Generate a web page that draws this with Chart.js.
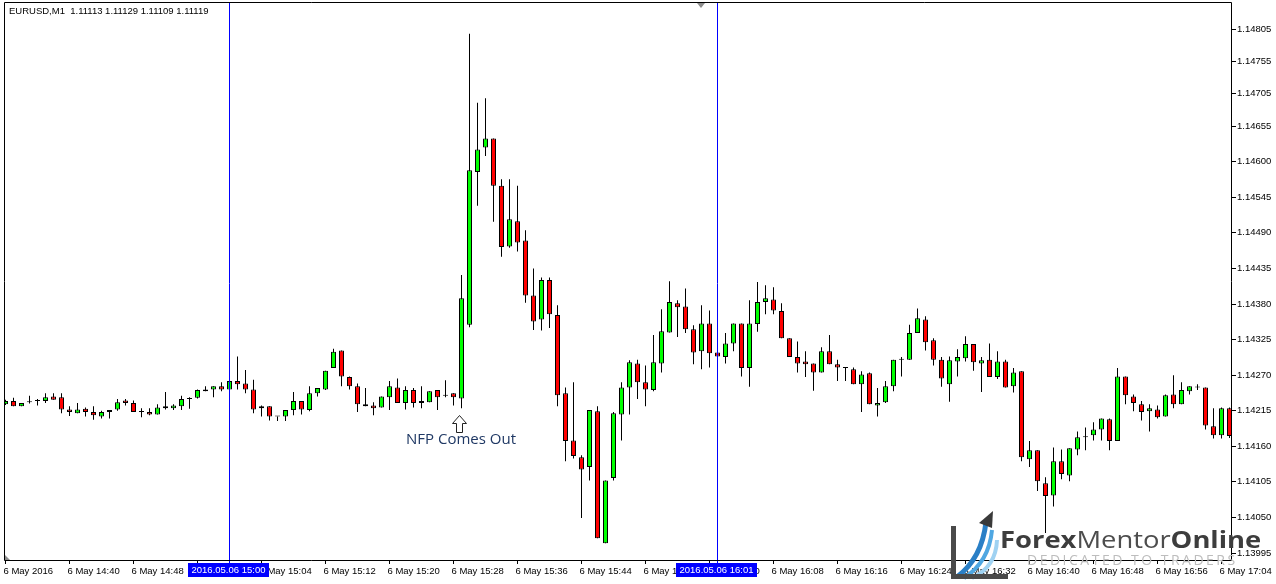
<!DOCTYPE html>
<html><head><meta charset="utf-8">
<script src="https://cdn.jsdelivr.net/npm/chart.js@4.4.1/dist/chart.umd.min.js"></script>
<style>
html,body{margin:0;padding:0;background:#fff;}
#wrap{position:relative;width:1276px;height:584px;overflow:hidden;background:#fff;}
canvas{position:absolute;left:0;top:0;}
.ov{position:absolute;white-space:pre;pointer-events:none;}
</style></head><body>
<div id="wrap">
<canvas id="c" width="1276" height="584"></canvas>
<div class="ov" style="left:9px;top:5px;font:9.5px 'Liberation Sans',Arial,sans-serif;line-height:12px;color:#000;">EURUSD,M1  1.11113 1.11129 1.11109 1.11119</div>
<svg class="ov" style="left:0;top:0" width="1276" height="584" viewBox="0 0 1276 584">
  <polygon points="459.5,415.5 452.5,423.5 456.5,423.5 456.5,432.5 462.5,432.5 462.5,423.5 466.5,423.5" fill="#fff" stroke="#222" stroke-width="1"/>
  <path d="M957 577 Q 982 558 986 522" stroke="#2a7fc6" stroke-width="5" fill="none"/>
  <path d="M964 578 Q 989 562 992 530" stroke="#4fa7e2" stroke-width="4" fill="none"/>
  <path d="M972 578 Q 996 567 997 540" stroke="#9fd2f2" stroke-width="4" fill="none"/>
  <rect x="951" y="526" width="5" height="53" fill="#4a4a4a"/>
  <rect x="951" y="574" width="57" height="5" fill="#4a4a4a"/>
  <polygon points="979,523 993,511 992,528" fill="#3a3a3a"/>
</svg>
<div class="ov" style="left:406px;top:429px;font:15px 'Open Sans',sans-serif;line-height:18px;color:#1f3864;">NFP Comes Out</div>
<div class="ov" style="left:1000px;top:528px;font-family:'Open Sans',sans-serif;font-size:23px;line-height:23px;color:#3d3d3d;transform:scaleX(1.19);transform-origin:0 0;"><b>Forex</b><span style="font-weight:400;color:#4d4d4d">Mentor</span><b>Online</b></div>
<div class="ov" style="left:1027px;top:553px;font-family:'Open Sans',sans-serif;font-size:14px;line-height:14px;color:#bdbdbd;letter-spacing:2.5px;">DEDICATED TO TRADERS</div>
</div>
<script>
// EURUSD M1, 6 May 2016, candles from 14:32 to 17:05 (index 0..153)
const open = [1.14225,1.14230,1.14222,1.14229,1.14230,1.14230,1.14237,1.14236,1.14217,1.14211,1.14218,1.14213,1.14206,1.14213,1.14217,1.14231,1.14227,1.14213,1.14213,1.14209,1.14222,1.14219,1.14222,1.14233,1.14235,1.14245,1.14248,1.14253,1.14248,1.14261,1.14257,1.14248,1.14219,1.14222,1.14206,1.14206,1.14216,1.14230,1.14216,1.14242,1.14248,1.14281,1.14308,1.14267,1.14253,1.14225,1.14223,1.14220,1.14236,1.14251,1.14227,1.14247,1.14227,1.14228,1.14247,1.14239,1.14242,1.14234,1.14348,1.14584,1.14622,1.14636,1.14563,1.14469,1.14508,1.14478,1.14393,1.14356,1.14417,1.14363,1.14242,1.14169,1.14143,1.14128,1.14214,1.14010,1.14111,1.14209,1.14251,1.14288,1.14259,1.14247,1.14288,1.14336,1.14381,1.14376,1.14341,1.14307,1.14350,1.14305,1.14298,1.14319,1.14350,1.14281,1.14349,1.14383,1.14387,1.14369,1.14327,1.14298,1.14291,1.14288,1.14274,1.14307,1.14287,1.14282,1.14279,1.14256,1.14273,1.14223,1.14228,1.14253,1.14295,1.14294,1.14335,1.14356,1.14324,1.14294,1.14256,1.14291,1.14296,1.14318,1.14288,1.14294,1.14267,1.14291,1.14253,1.14276,1.14140,1.14154,1.14103,1.14084,1.14137,1.14115,1.14155,1.14174,1.14177,1.14186,1.14202,1.14168,1.14268,1.14237,1.14225,1.14214,1.14217,1.14206,1.14240,1.14225,1.14245,1.14251,1.14251,1.14191,1.14177,1.14219];
const high = [1.14232,1.14235,1.14227,1.14238,1.14233,1.14242,1.14242,1.14242,1.14222,1.14227,1.14220,1.14222,1.14215,1.14216,1.14233,1.14233,1.14231,1.14219,1.14219,1.14225,1.14244,1.14225,1.14238,1.14236,1.14248,1.14253,1.14253,1.14259,1.14262,1.14299,1.14278,1.14263,1.14223,1.14222,1.14206,1.14216,1.14244,1.14230,1.14253,1.14250,1.14277,1.14311,1.14308,1.14268,1.14257,1.14250,1.14228,1.14237,1.14261,1.14265,1.14253,1.14250,1.14253,1.14245,1.14247,1.14262,1.14242,1.14425,1.14798,1.14691,1.14698,1.14636,1.14573,1.14573,1.14563,1.14494,1.14435,1.14421,1.14421,1.14378,1.14251,1.14259,1.14146,1.14216,1.14222,1.14107,1.14213,1.14259,1.14293,1.14294,1.14285,1.14332,1.14372,1.14415,1.14386,1.14404,1.14347,1.14378,1.14370,1.14309,1.14335,1.14350,1.14350,1.14386,1.14414,1.14409,1.14406,1.14381,1.14327,1.14322,1.14307,1.14288,1.14313,1.14332,1.14294,1.14282,1.14282,1.14276,1.14274,1.14250,1.14261,1.14294,1.14298,1.14348,1.14373,1.14361,1.14327,1.14298,1.14299,1.14310,1.14330,1.14318,1.14298,1.14319,1.14307,1.14294,1.14281,1.14276,1.14168,1.14154,1.14112,1.14158,1.14155,1.14157,1.14183,1.14189,1.14197,1.14203,1.14203,1.14281,1.14268,1.14240,1.14230,1.14225,1.14223,1.14240,1.14270,1.14259,1.14253,1.14256,1.14251,1.14219,1.14220,1.14220];
const low = [1.14224,1.14222,1.14222,1.14226,1.14223,1.14227,1.14232,1.14211,1.14207,1.14211,1.14206,1.14201,1.14203,1.14203,1.14215,1.14223,1.14213,1.14205,1.14208,1.14209,1.14217,1.14216,1.14216,1.14218,1.14234,1.14245,1.14236,1.14245,1.14248,1.14248,1.14242,1.14211,1.14206,1.14200,1.14199,1.14199,1.14208,1.14209,1.14214,1.14237,1.14247,1.14281,1.14253,1.14248,1.14213,1.14222,1.14208,1.14220,1.14216,1.14227,1.14217,1.14220,1.14219,1.14228,1.14216,1.14236,1.14223,1.14219,1.14344,1.14532,1.14609,1.14507,1.14453,1.14467,1.14461,1.14382,1.14340,1.14339,1.14343,1.14222,1.14137,1.14141,1.14049,1.14107,1.14018,1.14010,1.14107,1.14169,1.14209,1.14233,1.14222,1.14245,1.14274,1.14336,1.14329,1.14335,1.14287,1.14279,1.14282,1.14296,1.14288,1.14307,1.14268,1.14252,1.14337,1.14364,1.14364,1.14327,1.14298,1.14274,1.14267,1.14246,1.14274,1.14287,1.14261,1.14261,1.14256,1.14213,1.14225,1.14206,1.14227,1.14245,1.14268,1.14294,1.14335,1.14308,1.14285,1.14252,1.14229,1.14268,1.14291,1.14277,1.14244,1.14267,1.14264,1.14251,1.14243,1.14137,1.14128,1.14091,1.14026,1.14067,1.14109,1.14106,1.14146,1.14154,1.14169,1.14169,1.14154,1.14168,1.14225,1.14214,1.14200,1.14183,1.14203,1.14206,1.14219,1.14225,1.14240,1.14247,1.14186,1.14172,1.14172,1.14173];
const close = [1.14230,1.14222,1.14227,1.14228,1.14230,1.14236,1.14232,1.14217,1.14213,1.14217,1.14213,1.14208,1.14213,1.14216,1.14228,1.14227,1.14213,1.14213,1.14209,1.14220,1.14219,1.14223,1.14233,1.14234,1.14247,1.14248,1.14253,1.14248,1.14261,1.14256,1.14248,1.14217,1.14222,1.14206,1.14206,1.14216,1.14230,1.14217,1.14242,1.14250,1.14277,1.14306,1.14268,1.14253,1.14225,1.14222,1.14219,1.14237,1.14253,1.14227,1.14247,1.14227,1.14230,1.14245,1.14236,1.14238,1.14236,1.14389,1.14587,1.14619,1.14636,1.14563,1.14468,1.14511,1.14475,1.14393,1.14353,1.14417,1.14364,1.14239,1.14168,1.14145,1.14124,1.14216,1.14018,1.14107,1.14211,1.14251,1.14290,1.14259,1.14248,1.14290,1.14338,1.14383,1.14375,1.14341,1.14305,1.14350,1.14304,1.14299,1.14319,1.14350,1.14281,1.14350,1.14383,1.14389,1.14370,1.14327,1.14298,1.14288,1.14287,1.14274,1.14307,1.14287,1.14282,1.14281,1.14256,1.14271,1.14225,1.14227,1.14253,1.14294,1.14294,1.14335,1.14358,1.14321,1.14294,1.14265,1.14293,1.14298,1.14318,1.14290,1.14293,1.14267,1.14291,1.14251,1.14274,1.14143,1.14154,1.14106,1.14083,1.14137,1.14117,1.14157,1.14174,1.14174,1.14186,1.14203,1.14168,1.14268,1.14239,1.14227,1.14213,1.14219,1.14205,1.14239,1.14225,1.14247,1.14253,1.14251,1.14192,1.14177,1.14219,1.14176];

const timeTickIdx = [0,8,16,24,32,40,48,56,64,72,80,88,96,104,112,120,128,136,144,152];
const timeLabels = ['6 May 2016','6 May 14:40','6 May 14:48','6 May 14:56','6 May 15:04','6 May 15:12','6 May 15:20','6 May 15:28','6 May 15:36','6 May 15:44','6 May 15:52','6 May 16:00','6 May 16:08','6 May 16:16','6 May 16:24','6 May 16:32','6 May 16:40','6 May 16:48','6 May 16:56','6 May 17:04'];
const priceLabels = ['1.14805','1.14755','1.14705','1.14655','1.14600','1.14545','1.14490','1.14435','1.14380','1.14325','1.14270','1.14215','1.14160','1.14105','1.14050','1.13995'];
const separatorIdx = [28, 89];
const separatorLabels = ['2016.05.06 15:00', '2016.05.06 16:01'];

const X_MIN = -0.1875, X_MAX = 153.3125;
const Y_MIN = 1.139842, Y_MAX = 1.148454;
const UP = '#00ff00', DOWN = '#ff0000', SEP = '#0000ff';
const FONT = "'Liberation Sans', Arial, sans-serif";

const idx = open.map((_, i) => i);
const bodies = idx.map(i => ({x: i, y: [open[i], close[i]]}));
const wicks = idx.map(i => ({x: i, y: [low[i], high[i]]}));
const bodyColors = idx.map(i => close[i] > open[i] ? UP : (close[i] < open[i] ? DOWN : '#000'));

const mt4Plugin = {
  id: 'mt4',
  afterDatasetsDraw(chart) {
    const {ctx, chartArea: a, scales: {x}} = chart;
    ctx.save();
    ctx.lineWidth = 1;
    ctx.strokeStyle = SEP;
    separatorIdx.forEach(v => {
      const px = Math.floor(x.getPixelForValue(v)) + 0.5;
      ctx.beginPath(); ctx.moveTo(px, a.top); ctx.lineTo(px, a.bottom + 4); ctx.stroke();
    });
    ctx.strokeStyle = '#000';
    ctx.beginPath();
    ctx.moveTo(a.left + 0.5, a.top - 0.5); ctx.lineTo(a.right - 0.5, a.top - 0.5);
    ctx.lineTo(a.right - 0.5, a.bottom + 0.5); ctx.lineTo(a.left + 0.5, a.bottom + 0.5);
    ctx.closePath(); ctx.stroke();
    ctx.restore();
  },
  afterDraw(chart) {
    const {ctx, chartArea: a, scales: {x}} = chart;
    ctx.save();
    ctx.font = '9.5px ' + FONT;
    ctx.textAlign = 'center';
    ctx.textBaseline = 'middle';
    separatorIdx.forEach((v, k) => {
      const px = Math.floor(x.getPixelForValue(v)) - 0.5;
      ctx.fillStyle = SEP;
      ctx.fillRect(Math.round(px - 40.5), a.bottom + 3, 81, 14);
      ctx.fillStyle = '#fff';
      ctx.fillText(separatorLabels[k], px, a.bottom + 10.5);
    });
    ctx.fillStyle = '#8c8c8c';
    ctx.beginPath(); ctx.moveTo(697, a.top); ctx.lineTo(705, a.top); ctx.lineTo(701, a.top + 5); ctx.closePath(); ctx.fill();
    ctx.beginPath(); ctx.moveTo(a.left + 1, a.bottom - 5); ctx.lineTo(a.left + 1, a.bottom); ctx.lineTo(a.left + 6, a.bottom); ctx.closePath(); ctx.fill();
    ctx.restore();
  }
};

new Chart(document.getElementById('c'), {
  type: 'bar',
  data: {
    datasets: [
      {data: bodies, backgroundColor: bodyColors, borderColor: '#000', borderWidth: 1, borderSkipped: false,
       barThickness: 5, minBarLength: 1, grouped: false, inflateAmount: 0},
      {data: wicks, backgroundColor: '#000', borderWidth: 0, barThickness: 1, grouped: false, inflateAmount: 0}
    ]
  },
  options: {
    responsive: false, animation: false, devicePixelRatio: 1, events: [],
    layout: {padding: {left: 4, top: 3, right: 0, bottom: 0}},
    plugins: {legend: {display: false}, tooltip: {enabled: false}},
    scales: {
      x: {
        type: 'linear', position: 'bottom', min: X_MIN, max: X_MAX, offset: false,
        afterBuildTicks: s => { s.ticks = timeTickIdx.map(v => ({value: v})); },
        afterFit: s => { s.height = 24; s.paddingLeft = 0; s.paddingRight = 0; },
        ticks: {autoSkip: false, maxRotation: 0, minRotation: 0, align: 'start', labelOffset: -2, padding: 2,
                color: '#000', font: {family: FONT, size: 9.5}, callback: (v, i) => timeLabels[i]},
        grid: {drawOnChartArea: false, drawTicks: true, tickLength: 4, color: '#000', offset: false},
        border: {display: false}
      },
      y: {
        type: 'linear', position: 'right', min: Y_MIN, max: Y_MAX,
        afterBuildTicks: s => { s.ticks = priceLabels.map(t => ({value: parseFloat(t)})); },
        afterFit: s => { s.width = 44; s.paddingTop = 0; s.paddingBottom = 0; },
        ticks: {autoSkip: false, padding: 1, color: '#000', font: {family: FONT, size: 9.5}, callback: (v, i) => priceLabels[i]},
        grid: {drawOnChartArea: false, drawTicks: true, tickLength: 4, color: '#000'},
        border: {display: false}
      }
    }
  },
  plugins: [mt4Plugin]
});
</script>
</body></html>
